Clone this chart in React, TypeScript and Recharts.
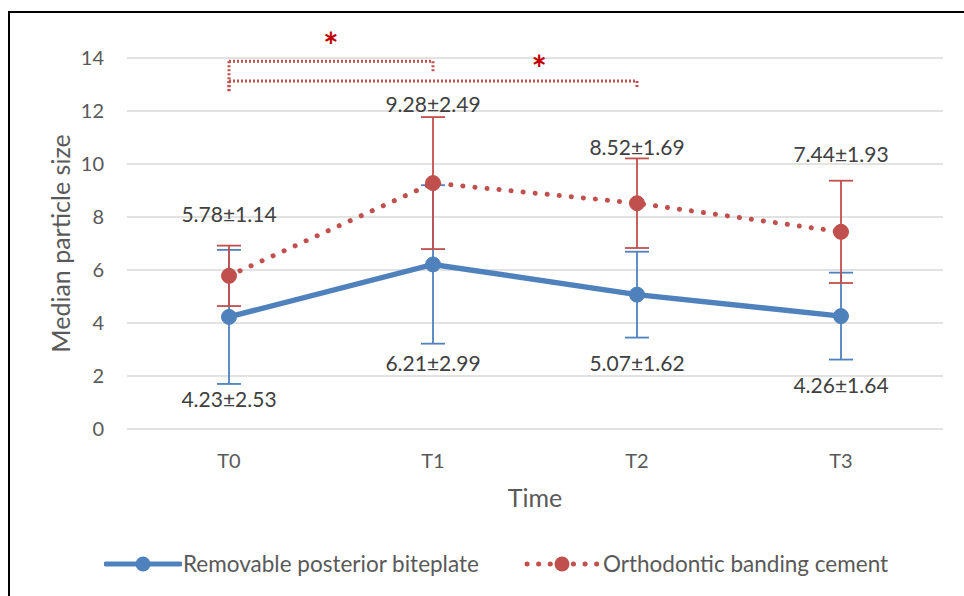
import React from 'react';
import {
  LineChart,
  Line,
  XAxis,
  YAxis,
  CartesianGrid,
  ErrorBar,
  LabelList,
  Legend,
  ReferenceLine,
  ReferenceDot,
} from 'recharts';

const categories = ['T0', 'T1', 'T2', 'T3'];
const biteplateMedian = [4.23, 6.21, 5.07, 4.26];
const biteplateSD = [2.53, 2.99, 1.62, 1.64];
const cementMedian = [5.78, 9.28, 8.52, 7.44];
const cementSD = [1.14, 2.49, 1.69, 1.93];
const yTicks = [0, 2, 4, 6, 8, 10, 12, 14];

// significance brackets (in data units)
const brackets = [
  { from: 0, to: 1, level: 13.88, drop: 13.47, leftDrop: 12.72, starX: 0.5, starY: 14.7 },
  { from: 0, to: 2, level: 13.13, drop: 12.87, leftDrop: 12.72, starX: 1.52, starY: 13.85 },
];

// label pixel offsets from the point
const biteLabelDy = [82, 98, 68, 68];
const cementLabelDy = [-62, -80, -57, -78];

const BLUE = '#4F81BD';
const RED = '#C0504D';
const TEXT = '#595959';
const FONT = 'Lato, "Open Sans", sans-serif';

const data = categories.map((c, i) => ({
  x: i,
  bite: biteplateMedian[i],
  biteSD: biteplateSD[i],
  cement: cementMedian[i],
  cementSD: cementSD[i],
}));

const makeLabel = (sds: number[], dys: number[]) => (props: any) => {
  const { x, y, value, index } = props;
  return (
    <text
      x={x}
      y={y + dys[index]}
      textAnchor="middle"
      dominantBaseline="central"
      fontSize={21}
      fill="#404040"
      fontFamily={FONT}
    >
      {`${Number(value).toFixed(2)}±${sds[index].toFixed(2)}`}
    </text>
  );
};

const makeDot = (color: string) => (p: any) => (
  <circle key={`d-${p.index}`} cx={p.cx} cy={p.cy} r={7.5} fill={color} stroke={color} strokeWidth={1} />
);

const LegendContent = () => (
  <div style={{ height: 40, position: 'relative', fontFamily: FONT, fontSize: 22.5, color: TEXT }}>
    <div style={{ position: 'absolute', left: 104, top: 6, display: 'flex', alignItems: 'center' }}>
      <svg width={78} height={24}>
        <line x1={2} y1={12} x2={76} y2={12} stroke={BLUE} strokeWidth={5} strokeLinecap="round" />
        <circle cx={39} cy={12} r={7.5} fill={BLUE} />
      </svg>
      <span style={{ marginLeft: 1 }}>Removable posterior biteplate</span>
    </div>
    <div style={{ position: 'absolute', left: 524, top: 6, display: 'flex', alignItems: 'center' }}>
      <svg width={76} height={24}>
        <line x1={3} y1={12} x2={73} y2={12} stroke={RED} strokeWidth={5} strokeLinecap="round" strokeDasharray="0.1 11.5" />
        <circle cx={38} cy={12} r={7.5} fill={RED} />
      </svg>
      <span style={{ marginLeft: 3 }}>Orthodontic banding cement</span>
    </div>
  </div>
);

const App: React.FC = () => {
  return (
    <div style={{ position: 'absolute', left: 0, top: 0, width: 964, height: 596, overflow: 'hidden', background: '#fff' }}>
      <div
        style={{
          position: 'absolute',
          left: 8,
          top: 11,
          width: 980,
          height: 600,
          borderLeft: '2px solid #000',
          borderTop: '2px solid #000',
        }}
      />
      <LineChart
        width={964}
        height={596}
        data={data}
        margin={{ top: 58, right: 21, left: 0, bottom: 12 }}
        style={{ position: 'absolute', left: 0, top: 0 }}
      >
        <CartesianGrid vertical={false} stroke="#D9D9D9" strokeWidth={1.5} />
        <XAxis
          dataKey="x"
          type="number"
          domain={[-0.5, 3.5]}
          ticks={[0, 1, 2, 3]}
          tickFormatter={(v: number) => categories[v]}
          axisLine={false}
          tickLine={false}
          tickSize={0}
          tickMargin={25}
          height={115}
          tick={{ fill: TEXT, fontSize: 20, fontFamily: FONT }}
          label={{
            content: (p: any) => (
              <text
                x={p.viewBox.x + p.viewBox.width / 2}
                y={p.viewBox.y + 68}
                textAnchor="middle"
                dominantBaseline="central"
                fontSize={25}
                fill={TEXT}
                fontFamily={FONT}
              >
                Time
              </text>
            ),
          }}
        />
        <YAxis
          type="number"
          domain={[0, 14]}
          ticks={yTicks}
          axisLine={false}
          tickLine={false}
          tickSize={0}
          tickMargin={23}
          width={127}
          tick={{ fill: TEXT, fontSize: 20, fontFamily: FONT }}
          label={{
            content: (p: any) => {
              const cx = p.viewBox.x + 60;
              const cy = p.viewBox.y + p.viewBox.height / 2;
              return (
                <text
                  x={cx}
                  y={cy}
                  transform={`rotate(-90 ${cx} ${cy})`}
                  textAnchor="middle"
                  dominantBaseline="central"
                  fontSize={25}
                  fill={TEXT}
                  fontFamily={FONT}
                >
                  Median particle size
                </text>
              );
            },
          }}
        />
        <Legend verticalAlign="bottom" content={<LegendContent />} />
        {brackets.map((b, i) => (
          <ReferenceLine
            key={`bh-${i}`}
            segment={[{ x: b.from, y: b.level }, { x: b.to, y: b.level }]}
            stroke={RED}
            strokeWidth={3}
            strokeDasharray="2 2"
            ifOverflow="visible"
          />
        ))}
        {brackets.map((b, i) => (
          <ReferenceLine
            key={`bl-${i}`}
            segment={[{ x: b.from, y: b.level }, { x: b.from, y: b.leftDrop }]}
            stroke={RED}
            strokeWidth={3}
            strokeDasharray="2 2"
            ifOverflow="visible"
          />
        ))}
        {brackets.map((b, i) => (
          <ReferenceLine
            key={`br-${i}`}
            segment={[{ x: b.to, y: b.level }, { x: b.to, y: b.drop }]}
            stroke={RED}
            strokeWidth={3}
            strokeDasharray="2 2"
            ifOverflow="visible"
          />
        ))}
        {brackets.map((b, i) => (
          <ReferenceDot
            key={`bs-${i}`}
            x={b.starX}
            y={b.starY}
            r={0}
            stroke="none"
            fill="none"
            ifOverflow="visible"
            label={{
              content: (p: any) => {
                const vb = p.viewBox || {};
                const cx = vb.x + (vb.width || 0) / 2;
                const cy = vb.y + (vb.height || 0) / 2;
                return (
                  <text x={cx} y={cy + 20} textAnchor="middle" fontSize={36} fontWeight="bold" fill="#C00000" fontFamily={FONT}>
                    *
                  </text>
                );
              },
            }}
          />
        ))}
        <Line
          type="linear"
          dataKey="bite"
          name="Removable posterior biteplate"
          stroke={BLUE}
          strokeWidth={5.5}
          dot={makeDot(BLUE)}
          activeDot={false}
          isAnimationActive={false}
        >
          <ErrorBar dataKey="biteSD" direction="y" width={12} stroke={BLUE} strokeWidth={1.8} />
          <LabelList dataKey="bite" content={makeLabel(biteplateSD, biteLabelDy)} />
        </Line>
        <Line
          type="linear"
          dataKey="cement"
          name="Orthodontic banding cement"
          stroke={RED}
          strokeWidth={5}
          strokeDasharray="0.1 12"
          strokeLinecap="round"
          dot={makeDot(RED)}
          activeDot={false}
          isAnimationActive={false}
        >
          <ErrorBar dataKey="cementSD" direction="y" width={12} stroke={RED} strokeWidth={1.8} />
          <LabelList dataKey="cement" content={makeLabel(cementSD, cementLabelDy)} />
        </Line>
      </LineChart>
    </div>
  );
};

export default App;
